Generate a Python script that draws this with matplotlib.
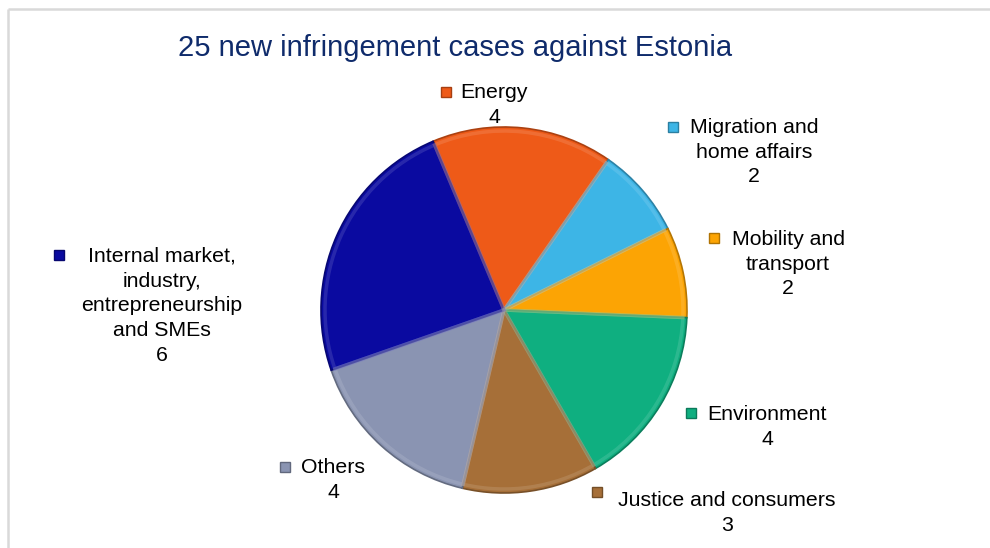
import matplotlib.pyplot as plt
from matplotlib.colors import to_rgb

plt.rcParams['font.family'] = ['Liberation Sans', 'DejaVu Sans']

title = "25 new infringement cases against Estonia"
labels = ["Energy", "Migration and\nhome affairs", "Mobility and\ntransport",
          "Environment", "Justice and consumers", "Others",
          "Internal market,\nindustry,\nentrepreneurship\nand SMEs"]
values = [4, 2, 2, 4, 3, 4, 6]
colors = ["#EE5A18", "#3DB5E6", "#FCA404", "#0FAF80", "#A66F38", "#8A94B2", "#0A0AA0"]

# label layout in pixels: (text centre x, first line y, marker x, marker y)
label_pos = [(494, 92, 446, 92), (754, 127, 673, 127), (788, 239, 714, 238),
             (767, 414, 691, 413), (727, 500, 597, 492), (333, 467, 285, 467),
             (162, 256, 59, 255)]

W, H = 990, 548


def shade(c, f):
    r, g, b = to_rgb(c)
    if f < 1:
        return (r * f, g * f, b * f)
    return tuple(v + (1 - v) * (f - 1) for v in (r, g, b))


fig = plt.figure(figsize=(9.9, 5.48), dpi=100)
ax = fig.add_axes([0, 0, 1, 1])

cx, cy, rad = 504, H - 310, 183
wedges, _ = ax.pie(values, colors=colors, startangle=112.8, counterclock=False,
                   center=(cx, cy), radius=rad,
                   wedgeprops=dict(linewidth=1.2))
for w, c in zip(wedges, colors):
    w.set_edgecolor(shade(c, 0.72))

# bevel highlight just inside the rim
hl, _ = ax.pie(values, colors=['none'] * len(values), startangle=112.8,
               counterclock=False, center=(cx, cy), radius=rad - 4,
               wedgeprops=dict(linewidth=2.5, fill=False))
for w, c in zip(hl, colors):
    w.set_edgecolor(shade(c, 1.3))
    w.set_alpha(0.4)

for lab, v, c, (tx, ty, mx, my) in zip(labels, values, colors, label_pos):
    ax.text(tx, H - ty + 9, f"{lab}\n{v}", ha='center', va='top', fontsize=15.3,
            color='black', linespacing=1.38)
    ax.plot(mx, H - my, marker='s', markersize=7.5, color=c,
            markeredgecolor=shade(c, 0.7), markeredgewidth=1)

ax.text(455, H - 48, title, ha='center', va='center', fontsize=21,
        color='#0F2B6B')

# light chart frame
ax.plot([8, 8], [0, H - 9], color='#D9D9D9', lw=1.8, solid_capstyle='butt')
ax.plot([8, W], [H - 9, H - 9], color='#D9D9D9', lw=1.8, solid_capstyle='butt')

ax.set_xlim(0, W)
ax.set_ylim(0, H)
ax.set_aspect('auto')
ax.axis('off')

fig.savefig("out.png", dpi=100)
